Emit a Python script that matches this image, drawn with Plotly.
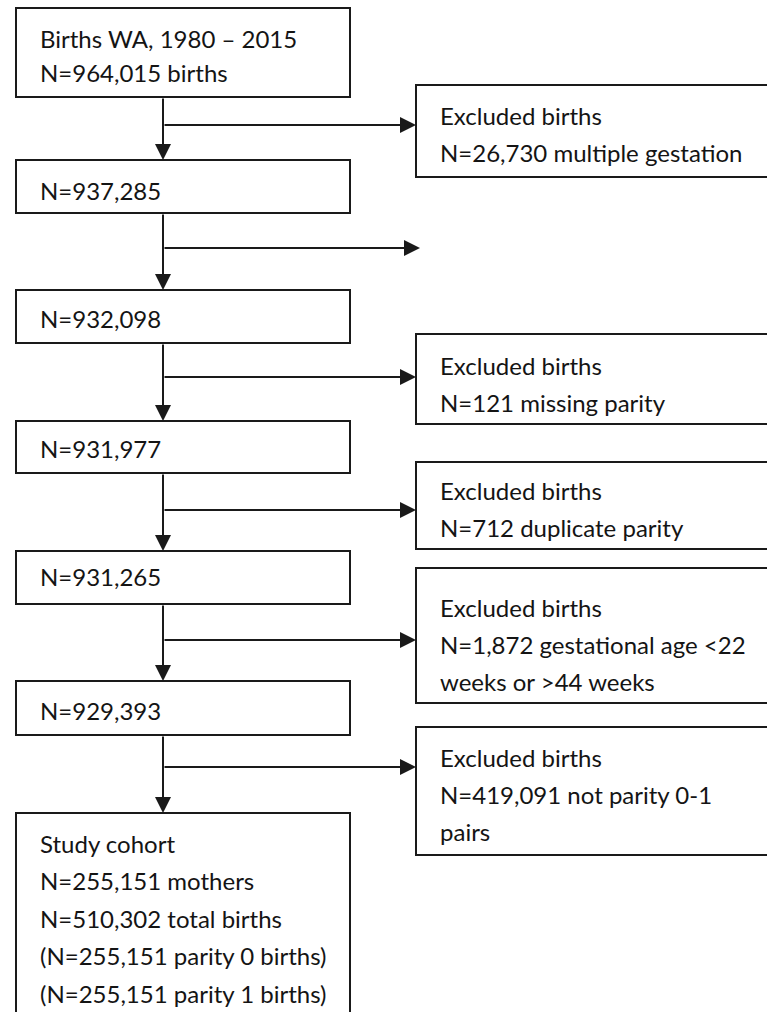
import plotly.graph_objects as go

# ---- data (texts of the flowchart) ----
main_labels = [
    ["Births WA, 1980 \u2013 2015", "N=964,015 births"],
    ["N=937,285"],
    ["N=932,098"],
    ["N=931,977"],
    ["N=931,265"],
    ["N=929,393"],
    ["Study cohort", "N=255,151 mothers", "N=510,302 total births",
     "(N=255,151 parity 0 births)", "(N=255,151 parity 1 births)"],
]
excl_labels = [
    ["Excluded births", "N=26,730 multiple gestation"],
    [],
    ["Excluded births", "N=121 missing parity"],
    ["Excluded births", "N=712 duplicate parity"],
    ["Excluded births", "N=1,872 gestational age <22", "weeks or >44 weeks"],
    ["Excluded births", "N=419,091 not parity 0-1", "pairs"],
]

# ---- layout geometry (pixels) ----
W, H = 767, 1012
LX0, LX1 = 16, 350
VX = 163
main_y = [(8, 97), (160, 213), (290, 343), (421, 473), (551, 604), (681, 735), (813, 1040)]
main_line1 = [38, 190, 318, 448, 576, 710, 843]
main_gap = [34, 37, 37, 37, 37, 37, 37.5]
RX0, RX1 = 416, 790
excl_y = [(85, 177), None, (334, 424), (462, 549), (568, 703), (727, 855)]
excl_line1 = [115, None, 365, 490, 607, 757]
arrow_y = [125, 248, 377, 510, 640, 767]
LINE_GAP = 37
FONT = dict(family="Lato, 'Open Sans', sans-serif", size=24, color="#141414")
EDGE = "#1a1a1a"

fig = go.Figure()
fig.add_trace(go.Scatter(x=[0, W], y=[0, H], mode="markers",
                         marker=dict(opacity=0), hoverinfo="skip", showlegend=False))

shapes = []
annotations = []

def add_box(x0, x1, y0, y1):
    shapes.append(dict(type="rect", xref="x", yref="y", x0=x0, x1=x1, y0=y0, y1=y1,
                       line=dict(color=EDGE, width=2), fillcolor="white", layer="above"))

def add_text(x, y, txt):
    annotations.append(dict(x=x, y=y, xref="x", yref="y", text=txt, showarrow=False,
                            xanchor="left", yanchor="middle", font=FONT))

def add_arrow(x_tail, y_tail, x_head, y_head):
    annotations.append(dict(x=x_head, y=y_head, ax=x_tail, ay=y_tail,
                            xref="x", yref="y", axref="x", ayref="y",
                            text="", showarrow=True, arrowhead=2, arrowsize=1.6,
                            arrowwidth=2, arrowcolor=EDGE, standoff=0, startstandoff=0))

for i, lines in enumerate(main_labels):
    y0, y1 = main_y[i]
    add_box(LX0, LX1, y0, y1)
    for j, t in enumerate(lines):
        add_text(38, main_line1[i] + j * main_gap[i], t)

for i, lines in enumerate(excl_labels):
    if excl_y[i] is not None:
        y0, y1 = excl_y[i]
        add_box(RX0, RX1, y0, y1)
        for j, t in enumerate(lines):
            add_text(438, excl_line1[i] + j * LINE_GAP, t)

# vertical arrows between main boxes
for i in range(len(main_y) - 1):
    add_arrow(VX, main_y[i][1], VX, main_y[i + 1][0])

# horizontal arrows to exclusion boxes
for i, ay in enumerate(arrow_y):
    end = RX0 if excl_y[i] is not None else 420
    add_arrow(VX, ay, end, ay)

fig.update_layout(
    width=W, height=H, margin=dict(l=0, r=0, t=0, b=0),
    paper_bgcolor="white", plot_bgcolor="white",
    xaxis=dict(range=[0, W], visible=False, fixedrange=True),
    yaxis=dict(range=[H, 0], visible=False, fixedrange=True),
    shapes=shapes, annotations=annotations, showlegend=False,
)
fig.write_html("out.html", config={"displayModeBar": False},
               post_script="document.body.style.margin='0';document.body.style.overflow='hidden';")
